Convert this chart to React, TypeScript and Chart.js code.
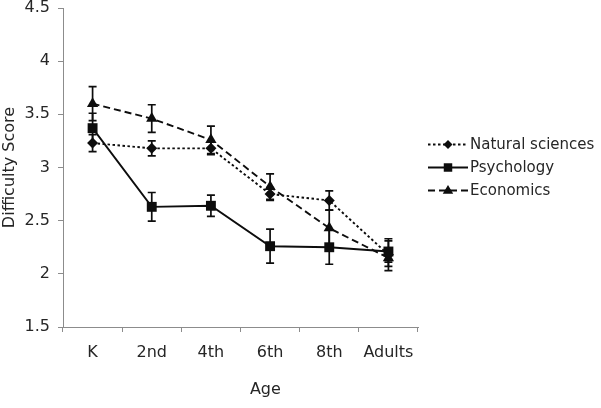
import React, { useEffect, useRef } from "react";
import { Chart, registerables } from "chart.js";

Chart.register(...registerables);

const categories = ["K", "2nd", "4th", "6th", "8th", "Adults"];
const seriesNames = ["Natural sciences", "Psychology", "Economics"];
const naturalSciences = [3.23, 3.18, 3.18, 2.75, 2.69, 2.18];
const psychology = [3.37, 2.63, 2.64, 2.26, 2.25, 2.21];
const economics = [3.6, 3.46, 3.26, 2.82, 2.43, 2.15];
const naturalErr = [0.08, 0.07, 0.06, 0.06, 0.09, 0.15];
const psychologyErr = [0.14, 0.135, 0.1, 0.16, 0.16, 0.1];
const economicsErr = [0.16, 0.13, 0.13, 0.12, 0.17, 0.08];
const yTicks = [1.5, 2, 2.5, 3, 3.5, 4, 4.5];
const xTitle = "Age";
const yTitle = "Difficulty Score";

const ERRORS = [naturalErr, psychologyErr, economicsErr];
const FONT = "'DejaVu Sans', Verdana, sans-serif";
const TEXT = "#262626";
const AXIS = "#8c8c8c";
const LINE = "#0d0d0d";
const AXIS_FONT = 16;
const LEGEND_FONT = 15;

const errorBarPlugin = {
  id: "errorBars",
  beforeDatasetsDraw(chart: any) {
    const ctx = chart.ctx;
    const ys = chart.scales.y;
    ctx.save();
    ctx.strokeStyle = LINE;
    ctx.lineWidth = 1.7;
    ctx.setLineDash([]);
    chart.data.datasets.forEach((ds: any, i: number) => {
      const meta = chart.getDatasetMeta(i);
      meta.data.forEach((pt: any, j: number) => {
        const v = ds.data[j];
        const e = ERRORS[i][j];
        const t = ys.getPixelForValue(v + e);
        const b = ys.getPixelForValue(v - e);
        ctx.beginPath();
        ctx.moveTo(pt.x, t);
        ctx.lineTo(pt.x, b);
        ctx.moveTo(pt.x - 4, t);
        ctx.lineTo(pt.x + 4, t);
        ctx.moveTo(pt.x - 4, b);
        ctx.lineTo(pt.x + 4, b);
        ctx.stroke();
      });
    });
    ctx.restore();
  },
};

function drawMarker(ctx: CanvasRenderingContext2D, style: string, x: number, y: number, r: number) {
  ctx.beginPath();
  if (style === "rect") {
    const s = (r * Math.SQRT2) / 2;
    ctx.rect(x - s, y - s, s * 2, s * 2);
  } else if (style === "rectRot") {
    ctx.moveTo(x, y - r);
    ctx.lineTo(x + r, y);
    ctx.lineTo(x, y + r);
    ctx.lineTo(x - r, y);
    ctx.closePath();
  } else {
    ctx.moveTo(x, y - r);
    ctx.lineTo(x + r * 0.95, y + r * 0.6);
    ctx.lineTo(x - r * 0.95, y + r * 0.6);
    ctx.closePath();
  }
  ctx.fill();
}

const legendPlugin = {
  id: "customLegend",
  afterDraw(chart: any) {
    const ctx = chart.ctx;
    const area = chart.chartArea;
    const mid = (area.top + area.bottom) / 2;
    const x0 = area.right + 10;
    const rowGap = 23;
    ctx.save();
    chart.data.datasets.forEach((ds: any, i: number) => {
      const y = mid + (i - 1) * rowGap;
      ctx.strokeStyle = LINE;
      ctx.lineWidth = 1.8;
      ctx.setLineDash(ds.borderDash || []);
      ctx.beginPath();
      ctx.moveTo(x0, y);
      ctx.lineTo(x0 + 40, y);
      ctx.stroke();
      ctx.setLineDash([]);
      ctx.fillStyle = LINE;
      drawMarker(ctx, ds.pointStyle, x0 + 20, y, ds.pointRadius - 1);
      ctx.fillStyle = TEXT;
      ctx.font = `${LEGEND_FONT}px ${FONT}`;
      ctx.textAlign = "left";
      ctx.textBaseline = "middle";
      ctx.fillText(ds.label, x0 + 42, y + 1);
    });
    ctx.fillStyle = TEXT;
    ctx.font = `${AXIS_FONT}px ${FONT}`;
    ctx.textAlign = "center";
    ctx.textBaseline = "middle";
    ctx.fillText(xTitle, area.left + (area.right - area.left) * 0.57, area.bottom + 63);
    ctx.restore();
  },
};

export default function App() {
  const ref = useRef<HTMLCanvasElement | null>(null);
  useEffect(() => {
    document.body.style.margin = "0";
    const canvas = ref.current!;
    const mk = (label: string, data: number[], style: string, dash: number[], radius: number) => ({
      label,
      data,
      borderColor: LINE,
      backgroundColor: LINE,
      pointBackgroundColor: LINE,
      pointBorderColor: LINE,
      borderWidth: 1.9,
      borderDash: dash,
      pointStyle: style,
      pointRadius: radius,
      pointBorderWidth: 0,
      tension: 0,
      fill: false,
    });
    const chart = new Chart(canvas, {
      type: "line",
      data: {
        labels: categories,
        datasets: [
          mk(seriesNames[0], naturalSciences, "rectRot", [2.5, 2.5], 5.5),
          mk(seriesNames[1], psychology, "rect", [], 7),
          mk(seriesNames[2], economics, "triangle", [7, 4], 6.5),
        ],
      },
      options: {
        animation: false,
        responsive: false,
        layout: { padding: { left: 0, right: 183, top: 8, bottom: 0 } },
        plugins: { legend: { display: false }, tooltip: { enabled: false } },
        scales: {
          x: {
            offset: true,
            grid: { offset: true, drawOnChartArea: false, drawTicks: true, tickLength: 5, color: AXIS },
            border: { display: true, color: AXIS, width: 1 },
            ticks: { color: TEXT, font: { family: FONT, size: AXIS_FONT }, padding: 11, maxRotation: 0 },
            afterFit: (s: any) => {
              s.height = 81;
              s.paddingLeft = 0;
              s.paddingRight = 0;
            },
          },
          y: {
            min: 1.5,
            max: 4.5,
            afterBuildTicks: (s: any) => {
              s.ticks = yTicks.map((v) => ({ value: v }));
            },
            grid: { drawOnChartArea: false, drawTicks: true, tickLength: 5, color: AXIS },
            border: { display: true, color: AXIS, width: 1 },
            ticks: {
              color: TEXT,
              font: { family: FONT, size: AXIS_FONT },
              padding: 8,
              callback: (v: any) => String(v),
            },
            title: {
              display: true,
              text: yTitle,
              color: TEXT,
              font: { family: FONT, size: AXIS_FONT },
              padding: { top: 0, bottom: 0 },
            },
            afterFit: (s: any) => {
              s.width = 63;
              s.paddingTop = 0;
              s.paddingBottom = 0;
            },
          },
        },
      },
      plugins: [errorBarPlugin, legendPlugin],
    } as any);
    return () => chart.destroy();
  }, []);
  return (
    <div style={{ width: 601, height: 408, background: "#fff" }}>
      <canvas ref={ref} width={601} height={408} style={{ display: "block" }} />
    </div>
  );
}
